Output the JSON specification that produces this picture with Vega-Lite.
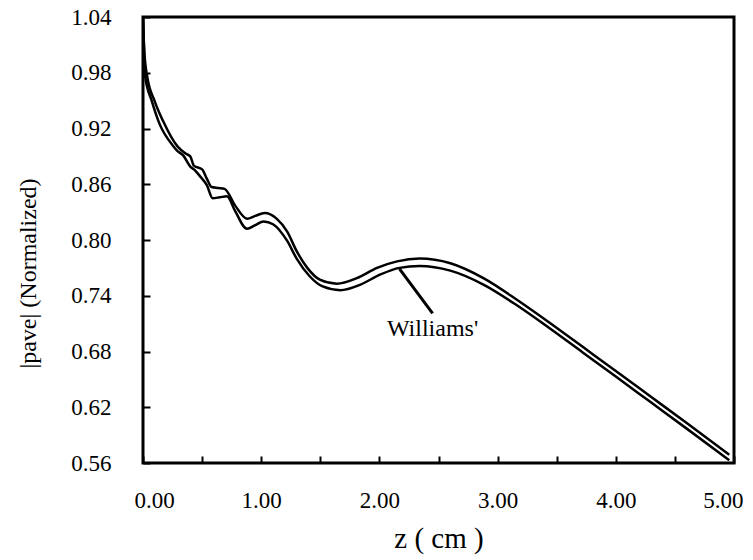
{
  "$schema": "https://vega.github.io/schema/vega-lite/v6.json",
  "width": 591,
  "height": 446,
  "autosize": {"type": "none"},
  "padding": {"left": 143, "top": 17, "right": 19, "bottom": 97},
  "background": "white",
  "config": {
    "view": {"stroke": "black", "strokeWidth": 3},
    "font": "'Liberation Serif', 'DejaVu Serif', serif"
  },
  "datasets": {
    "curves": [
      {"series": "Reference", "z": 0, "v": 1.04},
      {"series": "Reference", "z": 0.01, "v": 1.005},
      {"series": "Reference", "z": 0.034, "v": 0.977},
      {"series": "Reference", "z": 0.10, "v": 0.949},
      {"series": "Reference", "z": 0.17, "v": 0.928},
      {"series": "Reference", "z": 0.29, "v": 0.901},
      {"series": "Reference", "z": 0.36, "v": 0.893},
      {"series": "Reference", "z": 0.40, "v": 0.890},
      {"series": "Reference", "z": 0.43, "v": 0.880},
      {"series": "Reference", "z": 0.50, "v": 0.876},
      {"series": "Reference", "z": 0.54, "v": 0.866},
      {"series": "Reference", "z": 0.58, "v": 0.857},
      {"series": "Reference", "z": 0.64, "v": 0.856},
      {"series": "Reference", "z": 0.69, "v": 0.855},
      {"series": "Reference", "z": 0.78, "v": 0.837},
      {"series": "Reference", "z": 0.88, "v": 0.823},
      {"series": "Reference", "z": 0.95, "v": 0.826},
      {"series": "Reference", "z": 1.03, "v": 0.829},
      {"series": "Reference", "z": 1.13, "v": 0.823},
      {"series": "Reference", "z": 1.22, "v": 0.809},
      {"series": "Reference", "z": 1.30, "v": 0.788},
      {"series": "Reference", "z": 1.39, "v": 0.770},
      {"series": "Reference", "z": 1.50, "v": 0.757},
      {"series": "Reference", "z": 1.64, "v": 0.753},
      {"series": "Reference", "z": 1.81, "v": 0.759},
      {"series": "Reference", "z": 1.98, "v": 0.770},
      {"series": "Reference", "z": 2.15, "v": 0.777},
      {"series": "Reference", "z": 2.34, "v": 0.780},
      {"series": "Reference", "z": 2.60, "v": 0.775},
      {"series": "Reference", "z": 2.88, "v": 0.759},
      {"series": "Reference", "z": 3.16, "v": 0.736},
      {"series": "Reference", "z": 3.44, "v": 0.711},
      {"series": "Reference", "z": 3.72, "v": 0.685},
      {"series": "Reference", "z": 4.00, "v": 0.659},
      {"series": "Reference", "z": 4.30, "v": 0.631},
      {"series": "Reference", "z": 4.60, "v": 0.603},
      {"series": "Reference", "z": 4.96, "v": 0.569},
      {"series": "Williams'", "z": 0, "v": 1.04},
      {"series": "Williams'", "z": 0.01, "v": 1.0},
      {"series": "Williams'", "z": 0.017, "v": 0.977},
      {"series": "Williams'", "z": 0.076, "v": 0.949},
      {"series": "Williams'", "z": 0.14, "v": 0.925},
      {"series": "Williams'", "z": 0.25, "v": 0.902},
      {"series": "Williams'", "z": 0.29, "v": 0.896},
      {"series": "Williams'", "z": 0.34, "v": 0.891},
      {"series": "Williams'", "z": 0.40, "v": 0.879},
      {"series": "Williams'", "z": 0.44, "v": 0.875},
      {"series": "Williams'", "z": 0.48, "v": 0.869},
      {"series": "Williams'", "z": 0.54, "v": 0.859},
      {"series": "Williams'", "z": 0.59, "v": 0.845},
      {"series": "Williams'", "z": 0.65, "v": 0.846},
      {"series": "Williams'", "z": 0.71, "v": 0.847},
      {"series": "Williams'", "z": 0.78, "v": 0.831},
      {"series": "Williams'", "z": 0.88, "v": 0.812},
      {"series": "Williams'", "z": 0.95, "v": 0.816},
      {"series": "Williams'", "z": 1.02, "v": 0.820},
      {"series": "Williams'", "z": 1.10, "v": 0.817},
      {"series": "Williams'", "z": 1.22, "v": 0.799},
      {"series": "Williams'", "z": 1.30, "v": 0.780},
      {"series": "Williams'", "z": 1.41, "v": 0.761},
      {"series": "Williams'", "z": 1.52, "v": 0.750},
      {"series": "Williams'", "z": 1.67, "v": 0.746},
      {"series": "Williams'", "z": 1.84, "v": 0.752},
      {"series": "Williams'", "z": 2.01, "v": 0.763},
      {"series": "Williams'", "z": 2.17, "v": 0.770},
      {"series": "Williams'", "z": 2.34, "v": 0.772},
      {"series": "Williams'", "z": 2.60, "v": 0.767},
      {"series": "Williams'", "z": 2.88, "v": 0.752},
      {"series": "Williams'", "z": 3.16, "v": 0.730},
      {"series": "Williams'", "z": 3.44, "v": 0.705},
      {"series": "Williams'", "z": 3.72, "v": 0.679},
      {"series": "Williams'", "z": 4.00, "v": 0.653},
      {"series": "Williams'", "z": 4.30, "v": 0.625},
      {"series": "Williams'", "z": 4.60, "v": 0.597},
      {"series": "Williams'", "z": 4.96, "v": 0.563}
    ],
    "notes": [
      {"label": "Williams'", "z": 2.17, "v": 0.769, "z2": 2.45, "v2": 0.721, "tz": 2.45, "tv": 0.704}
    ]
  },
  "layer": [
    {
      "data": {"name": "curves"},
      "mark": {"type": "line", "color": "black", "strokeWidth": 2.5, "interpolate": "monotone", "clip": true},
      "encoding": {
        "x": {
          "field": "z", "type": "quantitative",
          "scale": {"domain": [0, 5], "nice": false, "zero": false},
          "axis": {
            "values": [0, 0.5, 1, 1.5, 2, 2.5, 3, 3.5, 4, 4.5, 5],
            "labelExpr": "datum.value % 1 == 0 ? format(datum.value, '.2f') : ''",
            "domain": false, "grid": false,
            "tickSize": -7, "tickWidth": 2, "tickColor": "black",
            "labelFont": "'Liberation Serif', 'DejaVu Serif', serif", "labelFontSize": 23, "labelColor": "black",
            "labelPadding": 33, "labelFlush": true, "labelFlushOffset": 9,
            "title": "z ( cm )", "titleFont": "'Liberation Serif', 'DejaVu Serif', serif", "titleFontSize": 29,
            "titleFontWeight": "normal", "titleColor": "black", "titlePadding": 12
          }
        },
        "y": {
          "field": "v", "type": "quantitative",
          "scale": {"domain": [0.56, 1.04], "nice": false, "zero": false},
          "axis": {
            "values": [0.56, 0.62, 0.68, 0.74, 0.8, 0.86, 0.92, 0.98, 1.04],
            "format": ".2f",
            "domain": false, "grid": false,
            "tickSize": -7, "tickWidth": 2, "tickColor": "black",
            "labelFont": "'Liberation Serif', 'DejaVu Serif', serif", "labelFontSize": 23, "labelColor": "black",
            "labelPadding": 39, "labelFlush": false,
            "title": "|pave| (Normalized)", "titleFont": "'Liberation Serif', 'DejaVu Serif', serif", "titleFontSize": 24,
            "titleFontWeight": "normal", "titleColor": "black",
            "titleAngle": 270, "titleX": -115, "titleY": 256,
            "titleAlign": "center", "titleBaseline": "middle"
          }
        },
        "detail": {"field": "series"}
      }
    },
    {
      "data": {"name": "notes"},
      "mark": {"type": "rule", "color": "black", "strokeWidth": 3},
      "encoding": {
        "x": {"field": "z", "type": "quantitative"},
        "y": {"field": "v", "type": "quantitative"},
        "x2": {"field": "z2"},
        "y2": {"field": "v2"}
      }
    },
    {
      "data": {"name": "notes"},
      "mark": {"type": "text", "font": "'Liberation Serif', 'DejaVu Serif', serif", "fontSize": 24, "color": "black", "align": "center", "baseline": "middle"},
      "encoding": {
        "x": {"field": "tz", "type": "quantitative"},
        "y": {"field": "tv", "type": "quantitative"},
        "text": {"field": "label"}
      }
    }
  ]
}
